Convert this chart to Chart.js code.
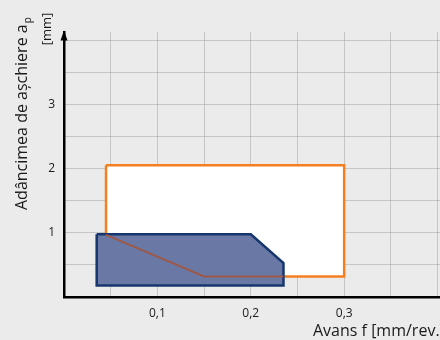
<!DOCTYPE html>
<html>
<head>
<meta charset="utf-8">
<script src="https://cdn.jsdelivr.net/npm/chart.js@4.4.1/dist/chart.umd.min.js"></script>
<style>
  html, body { margin: 0; padding: 0; background: #ebebeb; }
  canvas { display: block; }
</style>
</head>
<body>
<canvas id="c" width="440" height="340"></canvas>
<script>
// Recommended working range (feed f vs. depth of cut ap)
const rangeF  = [0.045, 0.30, 0.30, 0.15, 0.045, 0.045];
const rangeAp = [2.06, 2.06, 0.32, 0.32, 0.97, 2.06];

// Extended (blue) working range
const extF  = [0.035, 0.20, 0.235, 0.235, 0.035, 0.035];
const extAp = [0.98, 0.98, 0.53, 0.18, 0.18, 0.98];

// Lower edge of the recommended range, visible through the blue area
const edgeF  = [0.045, 0.15, 0.235];
const edgeAp = [0.97, 0.32, 0.32];

// Grid and tick labels
const xGrid = [0, 0.05, 0.10, 0.15, 0.20, 0.25, 0.30, 0.35, 0.40];
const yGrid = [0, 0.5, 1, 1.5, 2, 2.5, 3, 3.5, 4];
const xLabelValues = [0.1, 0.2, 0.3];
const xLabels = ['0,1', '0,2', '0,3'];
const yLabelValues = [1, 2, 3];
const yLabels = ['1', '2', '3'];

const xTitle = 'Avans f [mm/rev.]';
const yTitle = 'Adâncimea de așchiere a';
const yTitleSub = 'p';
const yUnit = '[mm]';

const pts = (xs, ys) => xs.map((x, i) => ({ x: x, y: ys[i] }));
const near = (a, b) => Math.abs(a - b) < 1e-6;

const FONT = '"Open Sans", "DejaVu Sans", sans-serif';

const axisDecor = {
  id: 'axisDecor',
  afterDraw(chart) {
    const ctx = chart.ctx;
    const a = chart.chartArea;
    ctx.save();
    // arrow head on the vertical axis
    ctx.fillStyle = '#000';
    ctx.beginPath();
    ctx.moveTo(a.left, a.top - 1.5);
    ctx.lineTo(a.left - 3.5, a.top + 8.5);
    ctx.lineTo(a.left + 3.5, a.top + 8.5);
    ctx.closePath();
    ctx.fill();

    ctx.fillStyle = '#1a1a1a';
    // vertical axis title with subscript
    ctx.save();
    ctx.translate(27, 210);
    ctx.rotate(-Math.PI / 2);
    ctx.font = '16px ' + FONT;
    ctx.textAlign = 'left';
    ctx.textBaseline = 'alphabetic';
    ctx.fillText(yTitle, 0, 0);
    const w = ctx.measureText(yTitle).width;
    ctx.font = '10px ' + FONT;
    ctx.fillText(yTitleSub, w + 1, 4);
    ctx.restore();

    // unit line
    ctx.save();
    ctx.translate(47, 29);
    ctx.rotate(-Math.PI / 2);
    ctx.font = '13px ' + FONT;
    ctx.textAlign = 'center';
    ctx.textBaseline = 'middle';
    ctx.fillText(yUnit, 0, 0);
    ctx.restore();

    // horizontal axis title
    ctx.font = '16px ' + FONT;
    ctx.textAlign = 'left';
    ctx.textBaseline = 'alphabetic';
    ctx.fillText(xTitle, 313, 336);
    ctx.restore();
  }
};

new Chart(document.getElementById('c'), {
  type: 'scatter',
  data: {
    datasets: [
      {
        data: pts(edgeF, edgeAp),
        showLine: true,
        borderColor: '#9c5848',
        borderWidth: 2,
        pointRadius: 0,
        fill: false,
        order: 0
      },
      {
        data: pts(extF, extAp),
        showLine: true,
        borderColor: '#16366e',
        backgroundColor: '#6a78a6',
        borderWidth: 2.5,
        borderJoinStyle: 'miter',
        pointRadius: 0,
        fill: 'shape',
        order: 1
      },
      {
        data: pts(rangeF, rangeAp),
        showLine: true,
        borderColor: '#f57f20',
        backgroundColor: '#ffffff',
        borderWidth: 2.5,
        borderJoinStyle: 'miter',
        pointRadius: 0,
        fill: 'shape',
        order: 2
      }
    ]
  },
  options: {
    responsive: false,
    animation: false,
    devicePixelRatio: 1,
    layout: { padding: { top: 32, right: 0, left: 0, bottom: 0 } },
    plugins: {
      legend: { display: false },
      tooltip: { enabled: false }
    },
    scales: {
      x: {
        type: 'linear',
        min: 0,
        max: 0.4026,
        z: 1,
        afterFit(s) { s.height = 43; s.paddingLeft = 0; s.paddingRight = 0; },
        afterBuildTicks(s) { s.ticks = xGrid.map(v => ({ value: v })); },
        grid: { color: 'rgba(150,150,150,0.45)', lineWidth: 1, drawTicks: false },
        border: { display: true, color: '#000', width: 2.5 },
        ticks: {
          padding: 9,
          color: '#1a1a1a',
          font: { family: FONT, size: 12 },
          maxRotation: 0,
          autoSkip: false,
          callback(v) {
            const i = xLabelValues.findIndex(t => near(t, v));
            return i >= 0 ? xLabels[i] : '';
          }
        }
      },
      y: {
        type: 'linear',
        min: 0,
        max: 4.14,
        z: 1,
        afterFit(s) { s.width = 64; s.paddingTop = 0; s.paddingBottom = 0; },
        afterBuildTicks(s) { s.ticks = yGrid.map(v => ({ value: v })); },
        grid: { color: 'rgba(150,150,150,0.45)', lineWidth: 1, drawTicks: false },
        border: { display: true, color: '#000', width: 2.5 },
        ticks: {
          padding: 9,
          color: '#1a1a1a',
          font: { family: FONT, size: 12 },
          autoSkip: false,
          callback(v) {
            const i = yLabelValues.findIndex(t => near(t, v));
            return i >= 0 ? yLabels[i] : '';
          }
        }
      }
    }
  },
  plugins: [axisDecor]
});
</script>
</body>
</html>
